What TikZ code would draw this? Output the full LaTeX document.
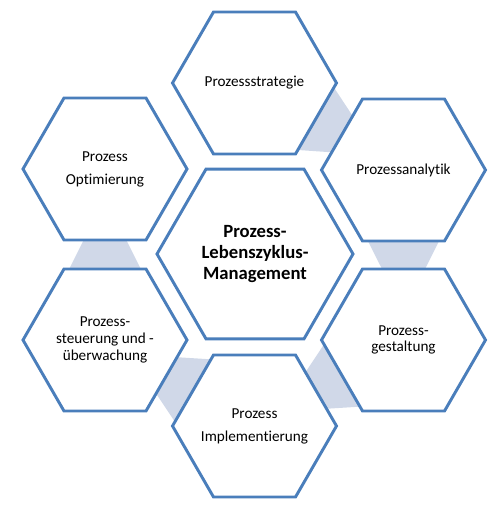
\documentclass[tikz,border=0pt]{standalone}
\usepackage{fontspec}
\setmainfont{Carlito}[Ligatures=NoCommon]
\usetikzlibrary{shapes.geometric,calc,backgrounds}
\definecolor{hexline}{RGB}{74,126,187}
\definecolor{linkfill}{RGB}{208,216,232}
\newcommand\linkshape[2]{%
  \coordinate (#1#2s) at ($(#1)!0.266!(#2)$);
  \coordinate (#1#2e) at ($(#1)!0.734!(#2)$);
  \fill[link] ($(#1#2s)!36.4pt!90:(#2)$) -- ($(#1#2e)!6.4pt!90:(#2)$)
    -- ($(#1#2e)!6.4pt!-90:(#2)$) -- ($(#1#2s)!36.4pt!-90:(#2)$) -- cycle;}
\begin{document}
\begin{tikzpicture}[x=0.75pt,y=-0.75pt,
  hexbox/.style={regular polygon, regular polygon sides=6, minimum size=123pt,
    inner sep=-10pt, draw=hexline, line width=2.2pt, fill=white, align=center,
    font=\fontsize{11.4}{12.6}\selectfont},
  centerbox/.style={hexbox, minimum size=147pt,
    font=\fontsize{14}{15.4}\selectfont\bfseries},
  link/.style={fill=linkfill}]
\useasboundingbox (0,0) rectangle (499,513);
\node[hexbox] (strat) at (254.5,83) {Prozessstrategie};
\node[hexbox] (analyt) at (403.5,170) {Prozessanalytik};
\node[hexbox] (gestalt) at (403.5,340) {Prozess-\\gestaltung};
\node[hexbox] (impl) at (254.5,426) {Prozess\\[4.75pt]Implementierung};
\node[hexbox] (steuer) at (105,340) {Prozess-\\steuerung und -\\überwachung};
\node[hexbox] (optim) at (105,169) {Prozess\\[4.75pt]Optimierung};
\node[centerbox] (core) at (255,254) {Prozess-\\Lebenszyklus-\\Management};
\begin{pgfonlayer}{background}
\linkshape{strat}{analyt}
\linkshape{analyt}{gestalt}
\linkshape{gestalt}{impl}
\linkshape{impl}{steuer}
\linkshape{steuer}{optim}
\end{pgfonlayer}
\end{tikzpicture}
\end{document}
